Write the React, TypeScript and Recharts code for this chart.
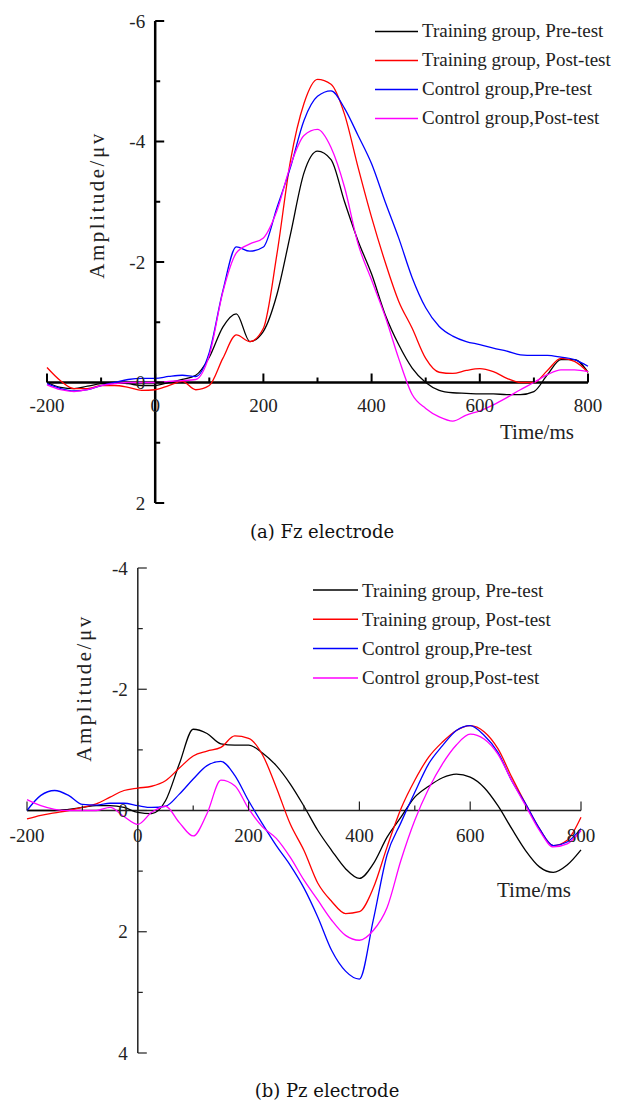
import React from "react";
import { LineChart, Line, XAxis, YAxis, ReferenceLine, ReferenceDot } from "recharts";

// time points (ms)
const TIMES = [
  -200, -175, -150, -125, -100, -75, -50, -25, 0, 25, 50, 75, 100, 125, 150, 175, 200, 225, 250, 275, 300,
  325, 350, 375, 400, 425, 450, 475, 500, 525, 550, 575, 600, 625, 650, 675, 700, 725, 750, 775, 800,
];

const SERIES_NAMES = [
  "Training group, Pre-test",
  "Training group, Post-test",
  "Control group,Pre-test",
  "Control group,Post-test",
];
const SERIES_COLORS = ["#000000", "#ff0000", "#0000ff", "#ff00ff"];

// (a) Fz electrode, amplitude in µV
const FZ_TRAIN_PRE = [
  0, 0.08, 0.1, 0.06, 0.02, 0, 0.02, 0.05, 0.05, 0, -0.05, -0.12, -0.42, -0.92, -1.14, -0.68, -0.85, -1.46,
  -2.46, -3.48, -3.84, -3.7, -3.0, -2.35, -1.8, -1.13, -0.63, -0.24, 0, 0.13, 0.17, 0.18, 0.19, 0.19, 0.2,
  0.2, 0.15, -0.13, -0.38, -0.38, -0.17,
];
const FZ_TRAIN_POST = [
  -0.25, -0.03, 0.1, 0.1, 0.05, 0.05, 0.08, 0.13, 0.12, 0.05, -0.02, 0.12, 0.05, -0.4, -0.79, -0.68, -0.9,
  -2.13, -3.68, -4.63, -5.03, -4.95, -4.45, -3.57, -2.74, -2.0, -1.35, -0.9, -0.4, -0.17, -0.15, -0.2,
  -0.23, -0.18, -0.07, 0, 0, -0.2, -0.4, -0.35, -0.17,
];
const FZ_CTRL_PRE = [
  0.02, 0.1, 0.14, 0.12, 0.05, 0, -0.05, -0.07, -0.07, -0.1, -0.12, -0.1, -0.5, -1.52, -2.25, -2.18, -2.25,
  -2.9, -3.57, -4.35, -4.75, -4.84, -4.55, -4.1, -3.63, -3.0, -2.4, -1.74, -1.24, -0.93, -0.77, -0.68,
  -0.63, -0.57, -0.52, -0.46, -0.45, -0.45, -0.42, -0.38, -0.27,
];
const FZ_CTRL_POST = [
  0.04, 0.12, 0.15, 0.12, 0.05, 0.02, 0, 0, 0, -0.02, -0.03, -0.05, -0.45, -1.5, -2.15, -2.3, -2.4, -2.85,
  -3.6, -4.1, -4.2, -3.9, -3.24, -2.3, -1.7, -1.1, -0.4, 0.2, 0.43, 0.57, 0.64, 0.54, 0.47, 0.37, 0.25,
  0.12, 0, -0.13, -0.21, -0.21, -0.18,
];

// (b) Pz electrode, amplitude in µV
const PZ_TRAIN_PRE = [
  0, 0, 0, -0.02, -0.05, -0.08, -0.08, -0.05, 0.03, 0.05, -0.16, -0.77, -1.34, -1.27, -1.1, -1.08, -1.08,
  -0.95, -0.74, -0.44, -0.07, 0.33, 0.66, 0.96, 1.12, 0.88, 0.44, 0.11, -0.22, -0.4, -0.54, -0.6, -0.55,
  -0.38, -0.08, 0.3, 0.66, 0.93, 1.02, 0.9, 0.65,
];
const PZ_TRAIN_POST = [
  0.14, 0.08, 0.04, 0, -0.05, -0.11, -0.22, -0.33, -0.37, -0.4, -0.49, -0.7, -0.9, -0.98, -1.04, -1.23,
  -1.19, -0.92, -0.38, 0.22, 0.66, 1.2, 1.5, 1.7, 1.67, 1.28, 0.6, -0.03, -0.5, -0.88, -1.13, -1.32, -1.4,
  -1.3, -1.02, -0.55, -0.11, 0.3, 0.58, 0.49, 0.11,
];
const PZ_CTRL_PRE = [
  0, -0.25, -0.33, -0.25, -0.1, -0.09, -0.12, -0.12, -0.08, -0.05, -0.07, -0.27, -0.52, -0.74, -0.81, -0.58,
  -0.16, 0.22, 0.58, 0.9, 1.28, 1.76, 2.31, 2.65, 2.78, 1.81, 0.73, 0.2, -0.3, -0.77, -1.07, -1.32, -1.4,
  -1.24, -0.96, -0.49, -0.11, 0.3, 0.58, 0.52, 0.3,
];
const PZ_CTRL_POST = [
  -0.18, -0.08, -0.02, 0, 0, 0, -0.05, 0.1, 0.23, 0.03, -0.07, 0.2, 0.42, 0.05, -0.5, -0.41, -0.03, 0.27,
  0.46, 0.77, 1.15, 1.48, 1.81, 2.06, 2.14, 1.98, 1.6, 0.82, 0.16, -0.36, -0.77, -1.08, -1.26, -1.18,
  -0.93, -0.49, -0.08, 0.33, 0.6, 0.55, 0.33,
];

const X_TICKS = [-200, 0, 200, 400, 600, 800];
const X_MINOR = [-100, 100, 300, 500, 700];
const FZ_Y_TICKS = [-6, -4, -2, 0, 2];
const FZ_Y_MINOR = [-5, -3, -1, 1];
const PZ_Y_TICKS = [-4, -2, 0, 2, 4];
const PZ_Y_MINOR = [-3, -1, 1, 3];

const SERIF = '"Liberation Serif", "Times New Roman", serif';

function buildRows(series: number[][]) {
  return TIMES.map((t, i) => {
    const row: any = { t };
    series.forEach((s, k) => (row["s" + k] = s[i]));
    return row;
  });
}

interface PanelProps {
  series: number[][];
  yTicks: number[];
  yMinor: number[];
  top: number;
  margin: { top: number; right: number; bottom: number; left: number };
  axisColor: string;
  axisWidth: number;
  xLabelDy: number;
  yLabelDx: number;
}

function Panel({ series, yTicks, yMinor, top, margin, axisColor, axisWidth, xLabelDy, yLabelDx }: PanelProps) {
  const rows = buildRows(series);
  const yMin = yTicks[0];
  const yMax = yTicks[yTicks.length - 1];

  const xTick = (len: number, label?: string) => (p: any) => (
    <g>
      <line x1={p.cx} y1={p.cy} x2={p.cx} y2={p.cy - len} stroke={axisColor} strokeWidth={axisWidth * 0.8} />
      {label != null && (
        <text x={p.cx} y={p.cy + xLabelDy} textAnchor="middle" fontFamily={SERIF} fontSize={19} fill="#222">
          {label}
        </text>
      )}
    </g>
  );
  const yTick = (len: number, label?: string) => (p: any) => (
    <g>
      <line x1={p.cx} y1={p.cy} x2={p.cx + len} y2={p.cy} stroke={axisColor} strokeWidth={axisWidth * 0.8} />
      {label != null && (
        <text x={p.cx - yLabelDx} y={p.cy + 6.5} textAnchor="end" fontFamily={SERIF} fontSize={19} fill="#222">
          {label}
        </text>
      )}
    </g>
  );

  return (
    <div style={{ position: "absolute", left: 0, top }}>
      <LineChart width={618} height={520} data={rows} margin={margin}>
        <XAxis type="number" dataKey="t" domain={[-200, 800]} hide />
        <YAxis type="number" domain={[yMin, yMax]} reversed hide />
        <ReferenceLine
          segment={[{ x: -200, y: 0 }, { x: 800, y: 0 }]}
          stroke={axisColor}
          strokeWidth={axisWidth}
        />
        <ReferenceLine
          segment={[{ x: 0, y: yMin }, { x: 0, y: yMax }]}
          stroke={axisColor}
          strokeWidth={axisWidth}
        />
        {X_TICKS.map((t) => (
          <ReferenceDot key={"xt" + t} x={t} y={0} r={1} shape={xTick(9, String(t))} />
        ))}
        {X_MINOR.map((t) => (
          <ReferenceDot key={"xm" + t} x={t} y={0} r={1} shape={xTick(5)} />
        ))}
        {yTicks.map((v) => (
          <ReferenceDot key={"yt" + v} x={0} y={v} r={1} shape={yTick(9, String(v))} />
        ))}
        {yMinor.map((v) => (
          <ReferenceDot key={"ym" + v} x={0} y={v} r={1} shape={yTick(5)} />
        ))}
        {series.map((_, k) => (
          <Line
            key={k}
            type="monotone"
            dataKey={"s" + k}
            stroke={SERIES_COLORS[k]}
            strokeWidth={1.3}
            dot={false}
            isAnimationActive={false}
          />
        ))}
      </LineChart>
    </div>
  );
}

function LegendBlock({ x, y, gap, lineLen, dy }: { x: number; y: number; gap: number; lineLen: number; dy: number }) {
  return (
    <g>
      {SERIES_NAMES.map((name, i) => (
        <g key={name}>
          <line x1={x} x2={x + lineLen} y1={y + i * gap} y2={y + i * gap} stroke={SERIES_COLORS[i]} strokeWidth={1.5} />
          <text x={x + lineLen + 4} y={y + i * gap + dy} fontFamily={SERIF} fontSize={19} fill="#222">
            {name}
          </text>
        </g>
      ))}
    </g>
  );
}

export default function App() {
  return (
    <div style={{ position: "absolute", left: 0, top: 0, width: 618, height: 1104, background: "#fff" }}>
      <Panel
        series={[FZ_TRAIN_PRE, FZ_TRAIN_POST, FZ_CTRL_PRE, FZ_CTRL_POST]}
        yTicks={FZ_Y_TICKS}
        yMinor={FZ_Y_MINOR}
        top={0}
        margin={{ top: 21, right: 30, bottom: 17, left: 47 }}
        axisColor="#000"
        axisWidth={2.5}
        xLabelDy={29}
        yLabelDx={10}
      />
      <Panel
        series={[PZ_TRAIN_PRE, PZ_TRAIN_POST, PZ_CTRL_PRE, PZ_CTRL_POST]}
        yTicks={PZ_Y_TICKS}
        yMinor={PZ_Y_MINOR}
        top={550}
        margin={{ top: 18, right: 37, bottom: 17, left: 27 }}
        axisColor="#222"
        axisWidth={1.5}
        xLabelDy={31}
        yLabelDx={10}
      />
      <svg
        width={618}
        height={1104}
        style={{ position: "absolute", left: 0, top: 0, pointerEvents: "none" }}
      >
        <LegendBlock x={375} y={31.5} gap={29} lineLen={43} dy={5.5} />
        <LegendBlock x={313} y={590} gap={29.3} lineLen={45} dy={6.5} />
        <text
          transform="translate(104,205) rotate(-90)"
          textAnchor="middle"
          fontFamily={SERIF}
          fontSize={21}
          letterSpacing={2.5}
          fill="#222"
        >
          Amplitude/μv
        </text>
        <text
          transform="translate(91,688) rotate(-90)"
          textAnchor="middle"
          fontFamily={SERIF}
          fontSize={21}
          letterSpacing={2.5}
          fill="#222"
        >
          Amplitude/μv
        </text>
        <text x={500} y={439} fontFamily={SERIF} fontSize={21} fill="#222">
          Time/ms
        </text>
        <text x={497} y={897} fontFamily={SERIF} fontSize={21} fill="#222">
          Time/ms
        </text>
        <text x={322} y={538} textAnchor="middle" fontFamily='"DejaVu Serif", serif' fontSize={18} fill="#111">
          (a) Fz electrode
        </text>
        <text x={327} y={1097} textAnchor="middle" fontFamily='"DejaVu Serif", serif' fontSize={18} fill="#111">
          (b) Pz electrode
        </text>
      </svg>
    </div>
  );
}
